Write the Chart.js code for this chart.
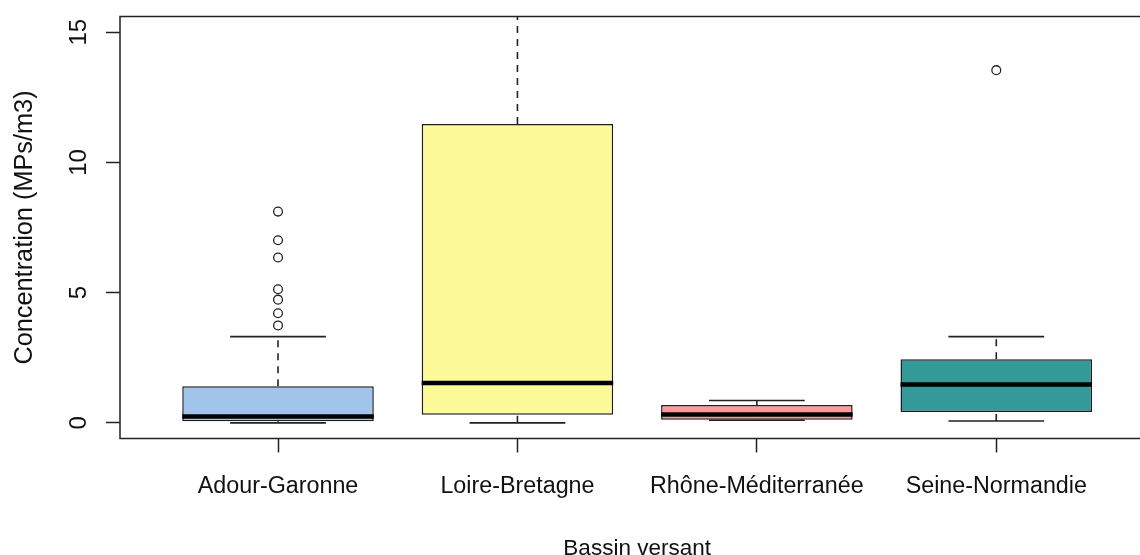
<!DOCTYPE html>
<html>
<head>
<meta charset="utf-8">
<script src="https://cdn.jsdelivr.net/npm/chart.js@4.4.1/dist/chart.umd.min.js"></script>
<style>
  html, body { margin: 0; padding: 0; background: #ffffff; overflow: hidden; width: 1140px; height: 555px; }
  #wrap { position: relative; width: 1160px; height: 570px; }
</style>
</head>
<body>
<div id="wrap"><canvas id="c" width="1160" height="570"></canvas></div>
<script>
// Microplastic concentration per river basin (box plot statistics)
const categories  = ['Adour-Garonne', 'Loire-Bretagne', 'Rhône-Méditerranée', 'Seine-Normandie'];
const whiskerLow  = [0.00, 0.00, 0.10, 0.07];
const quartile1   = [0.06, 0.31, 0.12, 0.42];
const medians     = [0.24, 1.53, 0.32, 1.47];
const quartile3   = [1.41, 11.47, 0.69, 2.44];
const whiskerHigh = [3.31, 17.00, 0.86, 3.31];
const outliersAdourGaronne      = [3.74, 4.21, 4.73, 5.13, 6.35, 7.01, 8.11];
const outliersLoireBretagne     = [];
const outliersRhoneMediterranee = [];
const outliersSeineNormandie    = [13.54];
const boxColors = ['#a0c4ea', '#fdfb99', '#ff9999', '#339999'];
const yTickValues = [0, 5, 10, 15];

const outlierLists = [outliersAdourGaronne, outliersLoireBretagne, outliersRhoneMediterranee, outliersSeineNormandie];
const xPos = categories.map((_, i) => i + 1);
const BOX_HALF = 0.4;   // half box width, in category units (bar width = 0.8)
const CAP_HALF = 0.2;   // half staple width

// builds a polyline made of separate segments, separated by gaps
function segments(build) {
  const pts = [];
  xPos.forEach((x, i) => {
    build(x, i).forEach(seg => {
      seg.forEach(p => pts.push(p));
      pts.push({ x: x, y: null });
    });
  });
  return pts;
}

const FONT = '"Liberation Sans", Arial, Helvetica, sans-serif';
Chart.defaults.font.family = FONT;
Chart.defaults.color = '#111';

const framePlugin = {
  id: 'frame',
  afterDatasetsDraw(chart) {
    const { ctx, chartArea: a } = chart;
    ctx.save();
    ctx.strokeStyle = '#222';
    ctx.lineWidth = 1.5;
    ctx.strokeRect(a.left, a.top, a.right - a.left, a.bottom - a.top);
    ctx.restore();
  }
};

function noPadding(s) {
  s.paddingTop = 0; s.paddingBottom = 0; s.paddingLeft = 0; s.paddingRight = 0;
}

new Chart(document.getElementById('c'), {
  type: 'bar',
  data: {
    datasets: [
      {
        type: 'bar',
        label: 'boxes',
        data: xPos.map((x, i) => ({ x: x, y: [quartile1[i], quartile3[i]] })),
        backgroundColor: boxColors,
        borderColor: '#1e1e1e',
        borderWidth: 1.5,
        borderSkipped: false,
        barPercentage: 0.8,
        categoryPercentage: 1,
        order: 5
      },
      {
        type: 'line',
        label: 'whiskers',
        data: segments((x, i) => [
          [{ x: x, y: quartile3[i] }, { x: x, y: whiskerHigh[i] }],
          [{ x: x, y: whiskerLow[i] }, { x: x, y: quartile1[i] }]
        ]),
        borderColor: '#222',
        borderWidth: 1.6,
        borderDash: [7, 6],
        pointRadius: 0,
        spanGaps: false,
        tension: 0,
        order: 4
      },
      {
        type: 'line',
        label: 'staples',
        data: segments((x, i) => [
          [{ x: x - CAP_HALF, y: whiskerLow[i] }, { x: x + CAP_HALF, y: whiskerLow[i] }],
          [{ x: x - CAP_HALF, y: whiskerHigh[i] }, { x: x + CAP_HALF, y: whiskerHigh[i] }]
        ]),
        borderColor: '#222',
        borderWidth: 1.6,
        pointRadius: 0,
        spanGaps: false,
        tension: 0,
        order: 3
      },
      {
        type: 'line',
        label: 'outliers',
        data: xPos.flatMap((x, i) => outlierLists[i].map(v => ({ x: x, y: v }))),
        showLine: false,
        pointRadius: 4.4,
        pointBorderWidth: 1.3,
        pointBackgroundColor: 'rgba(0,0,0,0)',
        pointBorderColor: '#222',
        order: 2
      },
      {
        type: 'line',
        label: 'medians',
        data: segments((x, i) => [
          [{ x: x - BOX_HALF, y: medians[i] }, { x: x + BOX_HALF, y: medians[i] }]
        ]),
        borderColor: '#000',
        borderWidth: 4.5,
        pointRadius: 0,
        spanGaps: false,
        tension: 0,
        order: 1
      }
    ]
  },
  options: {
    responsive: false,
    devicePixelRatio: 1,
    animation: false,
    events: [],
    layout: { padding: { top: 16.5, right: 5, bottom: 0, left: 0 } },
    plugins: { legend: { display: false }, tooltip: { enabled: false } },
    scales: {
      x: {
        type: 'linear',
        min: 0.34,
        max: 4.66,
        offset: false,
        grid: { display: true, offset: false, drawOnChartArea: false, drawTicks: true, tickLength: 14, tickColor: '#222', tickWidth: 1.5 },
        border: { display: false },
        ticks: {
          stepSize: 1,
          includeBounds: false,
          autoSkip: false,
          maxRotation: 0,
          minRotation: 0,
          padding: 22.5,
          color: '#111',
          font: { size: 23.3, lineHeight: 1 },
          callback: v => categories[Math.round(v) - 1] ?? ''
        },
        title: {
          display: true,
          text: 'Bassin versant',
          color: '#111',
          font: { size: 22.5, lineHeight: 1 },
          padding: { top: 0, bottom: 10 }
        },
        afterFit: s => { s.height = 131.5; noPadding(s); }
      },
      y: {
        type: 'linear',
        min: -0.6,
        max: 15.6,
        beginAtZero: false,
        grid: { display: true, drawOnChartArea: false, drawTicks: true, tickLength: 14, tickColor: '#222', tickWidth: 1.5 },
        border: { display: false },
        afterBuildTicks: s => { s.ticks = yTickValues.map(v => ({ value: v })); },
        ticks: {
          minRotation: 90,
          maxRotation: 90,
          crossAlign: 'center',
          padding: 13,
          color: '#111',
          font: { size: 24, lineHeight: 1 },
          callback: v => String(v)
        },
        title: {
          display: true,
          text: 'Concentration (MPs/m3)',
          color: '#111',
          font: { size: 25.3, lineHeight: 1 },
          padding: { top: 12, bottom: 0 }
        },
        afterFit: s => { s.width = 120; noPadding(s); }
      }
    }
  },
  plugins: [framePlugin]
});
</script>
</body>
</html>
